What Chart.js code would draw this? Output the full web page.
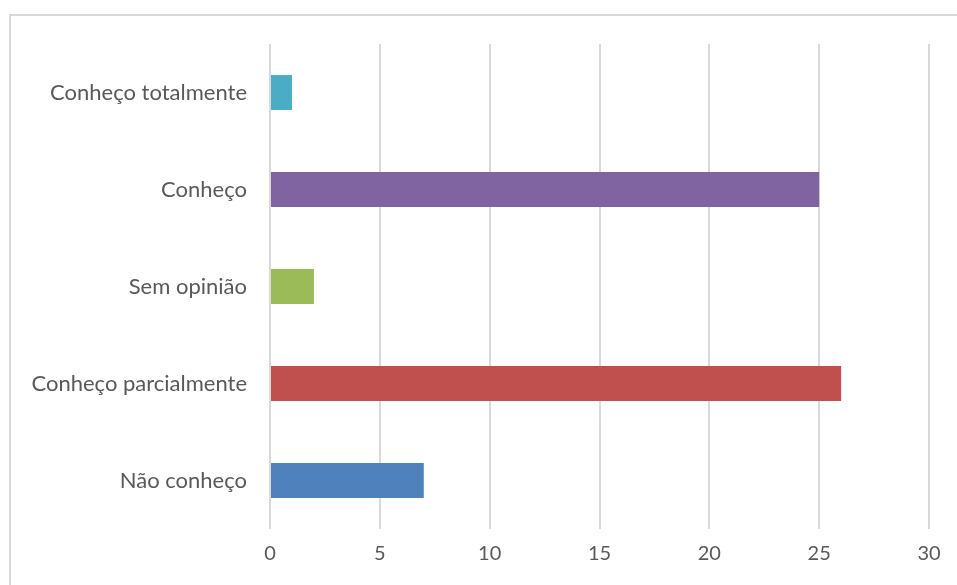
<!DOCTYPE html>
<html>
<head>
<meta charset="utf-8">
<script src="https://cdn.jsdelivr.net/npm/chart.js@4"></script>
<style>
  html, body { margin: 0; padding: 0; background: #fff; overflow: hidden; }
  #frame { position: absolute; left: 9px; top: 14px; width: 1000px; height: 700px; border: 2px solid #d9d9d9; }
  #wrap { position: absolute; left: 0; top: 0; width: 957px; height: 585px; }
</style>
</head>
<body>
<div id="frame"></div>
<div id="wrap"><canvas id="chart"></canvas></div>
<script>
const categories = ['Conheço totalmente', 'Conheço', 'Sem opinião', 'Conheço parcialmente', 'Não conheço'];
const values = [1, 25, 2, 26, 7];
const barColors = ['#4BACC6', '#8064A2', '#9BBB59', '#C0504D', '#4F81BD'];
const xTicks = [0, 5, 10, 15, 20, 25, 30];

const ctx = document.getElementById('chart').getContext('2d');
new Chart(ctx, {
    type: 'bar',
    data: {
        labels: categories,
        datasets: [{
            data: values,
            backgroundColor: barColors,
            barPercentage: 0.36,
            categoryPercentage: 1
        }]
    },
    options: {
        indexAxis: 'y',
        responsive: true,
        maintainAspectRatio: false,
        animation: false,
        layout: { padding: { top: 44, right: 28, left: 0, bottom: 0 } },
        plugins: { legend: { display: false }, tooltip: { enabled: false } },
        scales: {
            x: {
                min: xTicks[0],
                max: xTicks[xTicks.length - 1],
                ticks: { stepSize: 5, color: '#595959', font: { family: 'Lato', size: 20 }, padding: 13 },
                grid: { color: '#d9d9d9', lineWidth: 2, drawTicks: false },
                border: { display: false },
                afterFit: (s) => { s.height = 56; }
            },
            y: {
                ticks: { color: '#595959', font: { family: 'Lato', size: 22 }, padding: 23 },
                grid: { display: false, drawTicks: false },
                border: { display: false },
                afterFit: (s) => { s.width = 270; }
            }
        }
    }
});
</script>
</body>
</html>
